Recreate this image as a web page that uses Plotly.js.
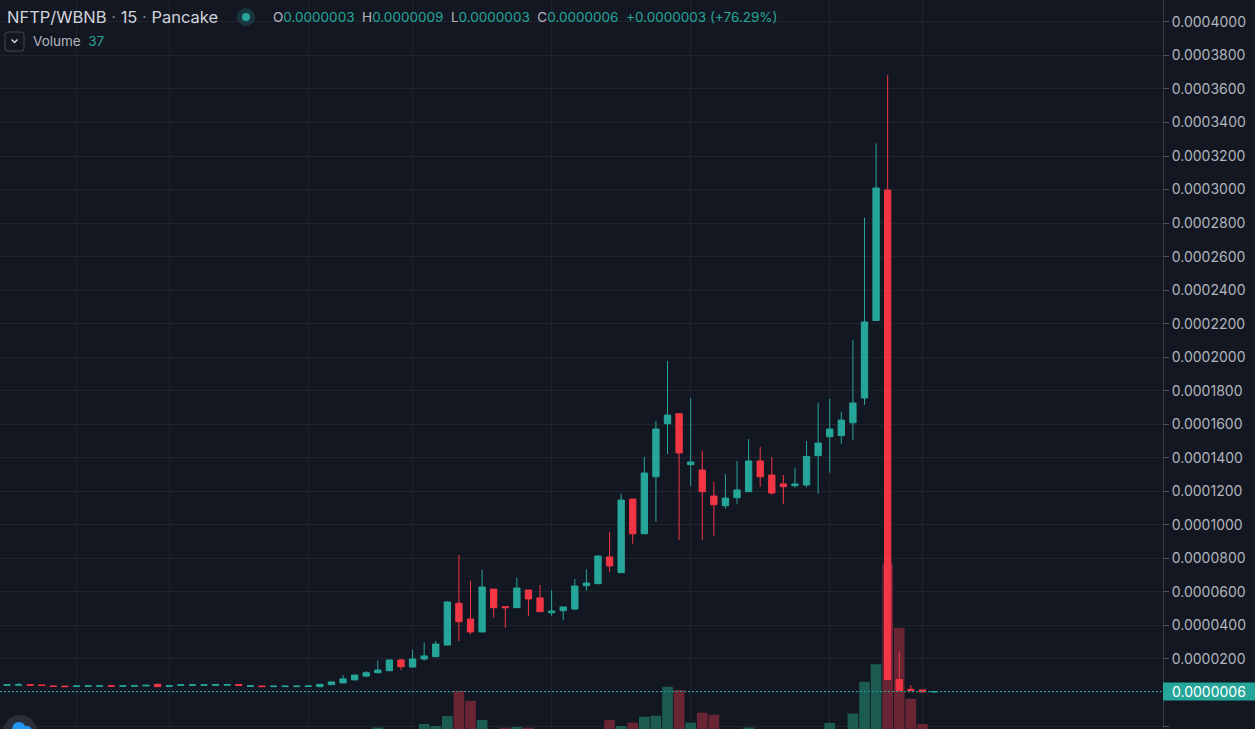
<!DOCTYPE html>
<html>
<head>
<meta charset="utf-8">
<script src="https://cdn.plot.ly/plotly-3.0.1.min.js"></script>
<style>
html,body{margin:0;padding:0;background:#131722;overflow:hidden;}
#chart{width:1255px;height:729px;}
</style>
</head>
<body>
<div id="chart"></div>
<script>
// Prices in units of 0.000001 WBNB
const SCALE = 1e-6;
const openU = [4.3,4.4,4.7,4.5,3.9,3.8,3.6,3.7,3.8,4.0,3.7,3.8,3.9,4.9,3.6,4.2,4.3,4.3,4.3,4.4,
  4.7,3.6,3.9,3.5,3.5,3.5,3.6,3.5,4.7,5.7,7.5,9.8,11.8,13.0,19.4,15.2,20.0,21.4,28.3,53.2,
  43.8,36.1,61.7,51.2,50.6,61.1,56.4,47.6,48.8,49.8,63.7,64.9,80.8,71.5,115.4,94.7,128.7,160.3,166.3,135.9,
  132.7,117.2,111.4,116.2,119.8,138.1,129.7,124.4,123.4,123.8,141.3,152.6,153.2,160.9,175.7,221.9,299.7,7.7,1.9,1.5,0.3];
const highU = [4.6,5.7,4.7,4.5,3.9,3.8,3.9,4.0,4.0,4.0,4.0,4.1,4.3,4.9,4.0,4.6,4.6,4.6,4.7,4.7,
  4.7,4.0,3.9,3.8,3.8,3.8,3.9,4.9,6.3,10.4,10.4,12.8,19.0,19.4,20.0,25.4,29.7,30.7,54.6,82.0,
  66.7,73.1,61.7,51.2,68.5,61.1,64.1,61.1,51.0,67.7,73.5,81.8,95.9,118.4,115.4,140.5,162.0,197.7,166.3,175.5,
  144.1,125.6,130.3,138.1,151.2,146.5,140.5,129.7,134.1,150.0,172.9,175.1,167.5,210.3,283.2,327.5,368.3,24.3,4.5,1.5,0.9];
const lowU = [4.3,4.4,4.4,4.2,3.6,3.5,3.6,3.7,3.8,3.7,3.7,3.8,3.9,3.5,3.6,4.2,4.3,4.3,4.3,4.4,
  4.3,3.6,3.5,3.5,3.5,3.5,3.6,3.5,4.7,5.7,7.5,9.1,11.8,13.0,13.4,15.2,19.0,21.4,28.3,30.7,
  34.7,36.1,44.6,38.7,50.6,45.6,48.2,45.8,43.2,49.2,60.7,64.9,71.7,71.5,88.8,94.7,101.9,142.3,91.0,123.2,
  91.0,93.5,109.6,112.6,119.8,122.8,118.0,112.6,122.2,122.3,118.6,131.1,148.4,150.6,171.6,221.9,7.7,1.1,1.1,0.4,0.3];
const closeU = [4.6,4.7,4.4,4.2,3.6,3.5,3.9,4.0,4.0,3.7,4.0,4.1,4.3,3.5,4.0,4.6,4.6,4.6,4.7,4.7,
  4.3,4.0,3.5,3.8,3.8,3.8,3.9,4.9,6.3,8.1,10.4,11.8,13.4,19.4,15.4,20.0,21.8,28.9,54.0,42.2,
  36.1,62.9,50.6,50.6,62.3,55.8,48.2,48.6,51.0,63.5,65.3,81.4,75.5,114.8,94.7,130.9,157.2,165.5,142.9,137.5,
  119.8,112.0,116.0,120.8,138.1,128.7,119.0,122.8,124.4,140.7,148.8,157.2,162.5,172.7,221.0,300.9,7.7,1.1,1.1,0.4,0.6];
const volume = [300,350,280,260,240,250,300,280,260,270,300,320,330,700,300,350,330,320,340,360,
  380,300,420,300,320,340,400,900,1000,1100,1200,1300,1750,1400,1300,1500,2100,1900,2900,5430,
  4420,2500,1500,1730,1800,1730,1400,1200,1100,1400,1300,1500,2500,1900,2230,2830,2930,5820,5500,2230,
  3230,3020,1300,1200,1750,1400,1300,1000,900,1400,1500,2200,1500,3150,6320,8080,18140,11730,4620,2100,37];
const gridTicks = [6,14,26,35,47,59,71,79];
const lastPrice = 0.0000006;
const lastVolume = 37;

const UP = '#26a69a', DOWN = '#f23645';
const VUP = '#1b5b52', VDOWN = '#6a2535';
const BG = '#131722', GRID = '#1f232e';

const idx = openU.map((_, i) => i);
const toP = a => a.map(v => v * SCALE);
const volColors = idx.map(i => closeU[i] >= openU[i] ? VUP : VDOWN);

const XR = [-0.604, 99.76];
const YR = [-0.00002177, 0.00041307];
const VR = [1600, 74500];

const PW = 1163, PH = 729;
const px = x => x / PW;
const py = y => 1 - y / PH;
const vy = v => (v - YR[0]) / (YR[1] - YR[0]);

const traces = [
  {type:'bar', x: idx, y: volume, xaxis:'x', yaxis:'y', marker:{color: volColors, line:{width:0}},
   hoverinfo:'skip', showlegend:false},
  {type:'candlestick', x: idx, open: toP(openU), high: toP(highU), low: toP(lowU), close: toP(closeU),
   xaxis:'x', yaxis:'y2', whiskerwidth:0,
   increasing:{line:{color:UP, width:1}, fillcolor:UP},
   decreasing:{line:{color:DOWN, width:1}, fillcolor:DOWN},
   hoverinfo:'skip', showlegend:false}
];

const teal = s => '<span style="color:' + UP + '">' + s + '</span>';
const ohlcText = 'O' + teal('0.0000003') + '  H' + teal('0.0000009') + '  L' + teal('0.0000003') +
  '  C' + teal('0.0000006') + '  ' + teal('+0.0000003 (+76.29%)');

const FONT = 'Inter, "Noto Sans", sans-serif';

const layout = {
  width:1255, height:729,
  margin:{l:0, r:92, t:0, b:0, pad:0},
  paper_bgcolor:BG, plot_bgcolor:BG,
  showlegend:false,
  bargap:0.08, boxgap:0.22,
  font:{family:FONT, color:'#b2b5be'},
  xaxis:{range:XR, domain:[0,1], tickmode:'array', tickvals:gridTicks, showticklabels:false, ticks:'',
    showgrid:true, gridcolor:GRID, gridwidth:1, zeroline:false, showline:false, fixedrange:true,
    rangeslider:{visible:false}},
  yaxis:{range:VR, visible:false, fixedrange:true},
  yaxis2:{range:YR, overlaying:'y', side:'right', anchor:'x', tick0:0, dtick:0.00002, tickformat:'.7f',
    showgrid:true, gridcolor:GRID, gridwidth:1, zeroline:false, ticks:'outside', ticklen:5, tickcolor:'#50535e',
    showline:true, linecolor:'#363a45', linewidth:1, fixedrange:true,
    tickfont:{family:FONT, size:14, color:'#b2b5be'}},
  shapes:[
    {type:'line', xref:'paper', yref:'y2', x0:0, x1:1, y0:lastPrice, y1:lastPrice,
     line:{color:UP, width:1, dash:'2px,2px'}},
    {type:'rect', xref:'paper', yref:'paper', x0:1, x1:1255/PW, y0:vy(lastPrice) - 9/PH, y1:vy(lastPrice) + 9/PH,
     fillcolor:UP, line:{width:0}},
    // status dot
    {type:'circle', xref:'paper', yref:'paper', x0:px(237), x1:px(255), y0:py(26), y1:py(8),
     fillcolor:'rgba(38,166,154,0.22)', line:{width:0}},
    {type:'circle', xref:'paper', yref:'paper', x0:px(242), x1:px(250), y0:py(21), y1:py(13),
     fillcolor:UP, line:{width:0}},
    // collapse button
    {type:'path', xref:'paper', yref:'paper',
     path:'M'+px(8)+','+py(32)+' L'+px(21)+','+py(32)+' Q'+px(24)+','+py(32)+' '+px(24)+','+py(35)+
          ' L'+px(24)+','+py(48)+' Q'+px(24)+','+py(51)+' '+px(21)+','+py(51)+
          ' L'+px(8)+','+py(51)+' Q'+px(5)+','+py(51)+' '+px(5)+','+py(48)+
          ' L'+px(5)+','+py(35)+' Q'+px(5)+','+py(32)+' '+px(8)+','+py(32)+' Z',
     line:{color:'#434651', width:1}, fillcolor:'rgba(0,0,0,0)'},
    {type:'path', xref:'paper', yref:'paper',
     path:'M'+px(11.5)+','+py(39.5)+' L'+px(14.5)+','+py(42.5)+' L'+px(17.5)+','+py(39.5),
     line:{color:'#d1d4dc', width:1.5}},
    // logo badge bottom-left
    {type:'circle', xref:'paper', yref:'paper', x0:px(3), x1:px(37), y0:py(749), y1:py(715),
     fillcolor:'#2a2e39', line:{width:0}},
    {type:'circle', xref:'paper', yref:'paper', x0:px(12), x1:px(26), y0:py(736), y1:py(722),
     fillcolor:'#2196f3', line:{width:0}},
    {type:'circle', xref:'paper', yref:'paper', x0:px(22), x1:px(32), y0:py(736), y1:py(726),
     fillcolor:'#2196f3', line:{width:0}}
  ],
  annotations:[
    {xref:'paper', yref:'paper', x:px(5), y:py(17), xanchor:'left', yanchor:'middle', showarrow:false,
     text:'NFTP/WBNB<span style="color:#787b86"> · </span>15<span style="color:#787b86"> · </span>Pancake',
     font:{family:FONT, size:16.5, color:'#d1d4dc'}},
    {xref:'paper', yref:'paper', x:px(271), y:py(17), xanchor:'left', yanchor:'middle', showarrow:false,
     text:ohlcText, font:{family:FONT, size:13.5, color:'#b2b5be'}},
    {xref:'paper', yref:'paper', x:px(31), y:py(41.5), xanchor:'left', yanchor:'middle', showarrow:false,
     text:'Volume  ' + teal(String(lastVolume)), font:{family:FONT, size:13.5, color:'#b2b5be'}},
    {xref:'paper', yref:'y2', x:1, y:lastPrice, xanchor:'left', yanchor:'middle', xshift:7, showarrow:false,
     text:'0.0000006', font:{family:FONT, size:14, color:'#ffffff'}}
  ]
};

Plotly.newPlot('chart', traces, layout, {displayModeBar:false, staticPlot:true});
</script>
</body>
</html>
